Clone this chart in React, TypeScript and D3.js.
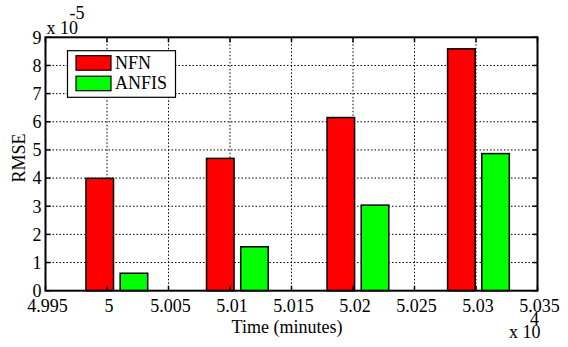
import React from "react";
import * as d3 from "d3";

const times = [50008, 50106, 50204, 50302];
const nfn = [3.99, 4.7, 6.15, 8.59]; // x 1e-5
const anfis = [0.62, 1.56, 3.04, 4.87]; // x 1e-5
const seriesNames = ["NFN", "ANFIS"];
const seriesColors = ["#ff0000", "#00ff00"];
const xTicks = [49950, 50000, 50050, 50100, 50150, 50200, 50250, 50300, 50350];
const xTickLabels = ["4.995", "5", "5.005", "5.01", "5.015", "5.02", "5.025", "5.03", "5.035"];
const yTicks = [0, 1, 2, 3, 4, 5, 6, 7, 8, 9];
const yTickLabels = ["0", "1", "2", "3", "4", "5", "6", "7", "8", "9"];

const W = 568;
const H = 347;
const L = 45.5, R = 537.5, T = 37.3, B = 290.7;
const BAR_W = 22.4; // data units
const BAR_OFF = 13.9; // data units
const FONT = "'Times New Roman', Times, 'Liberation Serif', 'DejaVu Serif', serif";
const FS = 18;

export default function App() {
  const x = d3.scaleLinear().domain([49950, 50350]).range([L, R]);
  const y = d3.scaleLinear().domain([0, 9]).range([B, T]);
  const series = [nfn, anfis];
  const tickLen = 5;
  const ts: React.CSSProperties = { fontFamily: FONT, fontSize: FS };

  return (
    <svg
      width={W}
      height={H}
      style={{ position: "absolute", left: 0, top: 0, background: "#fff", fontFamily: FONT }}
    >
      <rect x={0} y={0} width={W} height={H} fill="#fff" />
      {/* grid */}
      <g stroke="#000" strokeWidth={1} strokeDasharray="1.5,2">
        {xTicks.slice(1, -1).map((t) => (
          <line key={"gx" + t} x1={x(t)} x2={x(t)} y1={T} y2={B} />
        ))}
        {yTicks.slice(1, -1).map((t) => (
          <line key={"gy" + t} x1={L} x2={R} y1={y(t)} y2={y(t)} />
        ))}
      </g>
      {/* bars */}
      {series.map((vals, si) => (
        <g key={"s" + si}>
          {vals.map((v, i) => {
            const cx = times[i] + (si === 0 ? -BAR_OFF : BAR_OFF);
            const x0 = x(cx - BAR_W / 2);
            const x1 = x(cx + BAR_W / 2);
            return (
              <rect
                key={i}
                x={x0}
                y={y(v)}
                width={x1 - x0}
                height={y(0) - y(v)}
                fill={seriesColors[si]}
                stroke="#000"
                strokeWidth={1.5}
              />
            );
          })}
        </g>
      ))}
      {/* ticks */}
      <g stroke="#000" strokeWidth={1.5}>
        {xTicks.map((t) => (
          <g key={"tx" + t}>
            <line x1={x(t)} x2={x(t)} y1={B} y2={B - tickLen} />
            <line x1={x(t)} x2={x(t)} y1={T} y2={T + tickLen} />
          </g>
        ))}
        {yTicks.map((t) => (
          <g key={"ty" + t}>
            <line x1={L} x2={L + tickLen} y1={y(t)} y2={y(t)} />
            <line x1={R} x2={R - tickLen} y1={y(t)} y2={y(t)} />
          </g>
        ))}
      </g>
      {/* axes box */}
      <rect x={L} y={T} width={R - L} height={B - T} fill="none" stroke="#000" strokeWidth={2} />
      {/* tick labels */}
      <g fill="#000">
        {xTicks.map((t, i) => (
          <text key={"lx" + t} style={ts} x={x(t) + 2} y={311.5} textAnchor="middle">
            {xTickLabels[i]}
          </text>
        ))}
        {yTicks.map((t, i) => (
          <text key={"ly" + t} style={ts} x={41.5} y={y(t)} dy="0.35em" textAnchor="end">
            {yTickLabels[i]}
          </text>
        ))}
      </g>
      {/* exponent labels */}
      <text style={ts} x={46.5} y={33.5} fill="#000">x 10</text>
      <text style={ts} x={69.5} y={18.5} fill="#000">-5</text>
      <text style={ts} x={530} y={325} fill="#000">4</text>
      <text style={ts} x={509} y={338} fill="#000">x 10</text>
      {/* axis labels */}
      <text style={ts} x={287} y={333} textAnchor="middle" fill="#000">
        Time (minutes)
      </text>
      <text style={ts} transform="translate(25,158) rotate(-90)" textAnchor="middle" fill="#000">
        RMSE
      </text>
      {/* legend */}
      <g>
        <rect x={67.5} y={50.7} width={108} height={46.6} fill="#fff" stroke="#000" strokeWidth={1.2} />
        {seriesNames.map((n, i) => (
          <g key={n}>
            <rect
              x={76}
              y={55.7 + i * 20.5}
              width={35}
              height={14.5}
              fill={seriesColors[i]}
              stroke="#000"
              strokeWidth={1.2}
            />
            <text style={ts} x={115} y={68.5 + i * 20.8} fill="#000">
              {n}
            </text>
          </g>
        ))}
      </g>
    </svg>
  );
}
